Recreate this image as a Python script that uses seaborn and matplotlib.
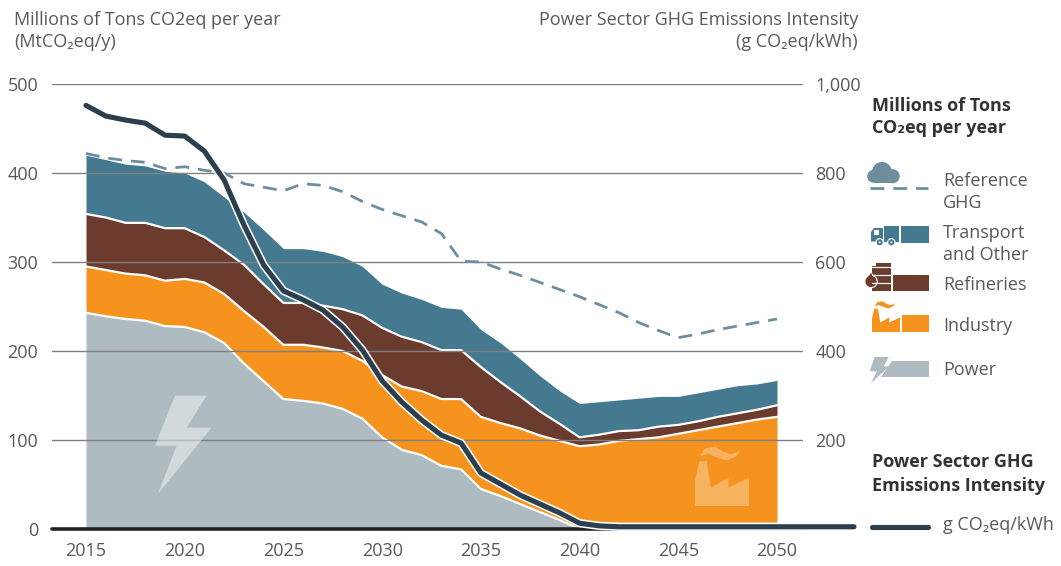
import matplotlib
matplotlib.use("Agg")
import matplotlib.pyplot as plt
import matplotlib.patheffects as pe
from matplotlib.patches import Polygon, Rectangle, Circle
import seaborn as sns

years = list(range(2015, 2051))
power = [243,239,236,234,228,227,221,209,186,166,146,144,141,135,124,103,89,83,71,67,45,37,28,19,10,0,0,0,0,0,0,0,0,0,0,0]
industry_top = [295,291,287,285,279,281,277,264,245,227,207,207,204,200,189,173,160,155,146,146,126,119,113,105,99,93,95,99,101,103,107,111,115,119,123,126]
refineries_top = [354,350,344,344,338,338,328,313,297,275,254,254,251,247,240,226,216,210,201,201,182,165,149,132,118,103,106,110,111,115,117,121,126,130,134,139]
transport_top = [420,415,410,408,402,400,390,373,356,336,315,315,312,306,295,275,265,258,249,247,224,209,191,172,155,141,143,145,147,149,149,153,157,161,163,167]
reference = [422,417,414,412,405,407,403,400,388,384,380,388,386,379,368,359,352,345,332,301,300,292,285,277,269,261,252,243,232,223,215,219,224,228,232,236]
intensity_years = years + [2053.9]
intensity = [952,928,919,912,885,883,849,784,683,593,535,515,492,454,402,333,285,245,211,193,126,101,76,56,36,13,7,5,5,5,5,5,5,5,5,5,5]
left_ticks = [0,100,200,300,400,500]
right_ticks = [200,400,600,800,1000]
right_labels = ["200","400","600","800","1,000"]
x_ticks = [2015,2020,2025,2030,2035,2040,2045,2050]

TEAL, BROWN, ORANGE, GREY = "#44798F", "#6B3B2D", "#F5931E", "#AEBBC1"
DARK, DASH, TEXT, GRID = "#2B3F4F", "#6E8E9E", "#58595B", "#808080"

sns.set_theme(style="white")
plt.rcParams["font.family"] = ["Open Sans", "DejaVu Sans"]
W, H = 1061, 566
fig = plt.figure(figsize=(W/100, H/100), dpi=100)
ax = fig.add_axes([52/W, (H-529)/H, (803-52)/W, (529-84)/H])
xscale = (777-86)/35
ax.set_xlim(2015-(86-52)/xscale, 2050+(803-777)/xscale)
ax.set_ylim(0, 500)
for s in ax.spines.values():
    s.set_visible(False)

bands = [(transport_top, refineries_top, TEAL), (refineries_top, industry_top, BROWN),
         (industry_top, power, ORANGE), (power, [0]*36, GREY)]
for top, bottom, col in bands:
    ax.fill_between(years, bottom, top, color=col, lw=0, zorder=1)
for top in (refineries_top, industry_top, power):
    sns.lineplot(x=years, y=top, color="white", lw=1.6, ax=ax, zorder=2, errorbar=None)

ax.set_yticks(left_ticks)
ax.set_xticks(x_ticks)
ax.tick_params(length=0, labelsize=13, labelcolor=TEXT, pad=9)
ax.tick_params(axis="y", pad=10)
ax.set_axisbelow(False)
ax.yaxis.grid(True, color=GRID, lw=1, zorder=3)
ax.set_xlabel(""); ax.set_ylabel("")
ax.axhline(0, color="#222222", lw=2.6, zorder=4, clip_on=False)
sns.lineplot(x=years, y=reference, color=DASH, lw=2, ax=ax, zorder=5, errorbar=None)
ax.lines[-1].set_dashes((5, 3.2))

ax2 = ax.twinx()
ax2.set_ylim(0, 1000)
ax2.set_yticks(right_ticks)
ax2.set_yticklabels(right_labels)
ax2.tick_params(length=0, labelsize=13, labelcolor=TEXT, pad=9)
for s in ax2.spines.values():
    s.set_visible(False)
ax2.grid(False)
ax2.set_ylabel("")
sns.lineplot(x=intensity_years, y=intensity, color=DARK, lw=3.7, ax=ax2, errorbar=None,
             clip_on=False, solid_capstyle="round", solid_joinstyle="round",
             path_effects=[pe.Stroke(linewidth=6, foreground="white"), pe.Normal()])

ov = fig.add_axes([0, 0, 1, 1], facecolor="none")
ov.set_xlim(0, W); ov.set_ylim(H, 0); ov.axis("off")

def txt(x, y, s, ha="left", bold=False, size=13):
    ov.text(x, y, s, ha=ha, va="center", color="#333333" if bold else TEXT, fontsize=size,
            fontweight="bold" if bold else "normal")

txt(14, 20, "Millions of Tons CO2eq per year")
txt(14, 42, "(MtCO₂eq/y)")
txt(858, 20, "Power Sector GHG Emissions Intensity", ha="right")
txt(858, 42, "(g CO₂eq/kWh)", ha="right")
txt(872, 106, "Millions of Tons", bold=True)
txt(872, 128, "CO₂eq per year", bold=True)
txt(943, 181, "Reference"); txt(943, 203, "GHG")
txt(943, 233, "Transport"); txt(943, 255, "and Other")
txt(943, 285, "Refineries"); txt(943, 326, "Industry"); txt(943, 370, "Power")
txt(872, 462, "Power Sector GHG", bold=True)
txt(872, 486, "Emissions Intensity", bold=True)
txt(943, 525, "g CO₂eq/kWh")

def poly(points, ox, oy, color, alpha=1.0, scale=1/3):
    pts = [(ox+a*scale, oy+b*scale) for a, b in points]
    ov.add_patch(Polygon(pts, closed=True, fc=color, ec="none", alpha=alpha))

bolt = [(135,47),(230,47),(170,143),(245,143),(85,340),(140,197),(75,197)]
factory = [(45,228),(207,228),(207,143),(145,173),(145,143),(93,173),(80,93),(58,93),(45,150)]
smoke = [(60,78),(75,55),(105,50),(130,65),(150,72),(170,68),(182,58),(170,78),(140,92),(110,82),(85,72)]
poly(bolt, 130, 380, "white", .45)
poly(factory, 680, 430, "white", .3)
poly(smoke, 680, 430, "white", .3)

# cloud + dashes
for cx, cy, r in [(882,172,10),(873.7,176.3,6.5),(892.7,176.3,7)]:
    ov.add_patch(Circle((cx, cy), r, fc=DASH, ec="none"))
ov.add_patch(Rectangle((874,176),19,7.3,fc=DASH,ec="none"))
ov.plot([870,928],[187.5,187.5],color=DASH,lw=2,dashes=(5,3.2))
# truck
ov.add_patch(Rectangle((901,226),28,17,fc=TEAL,ec="none"))
ov.add_patch(Rectangle((884,226),15,15.5,fc=TEAL,ec="none"))
poly([(871,241.5),(871,232),(874,228),(883,228),(883,241.5)],0,0,TEAL,scale=1)
ov.add_patch(Rectangle((873.7,230.3),5.6,4.4,fc="white",ec="none"))
for cx in (879.7,891.3):
    ov.add_patch(Circle((cx,242.3),3.6,fc=TEAL,ec="white",lw=0.8))
    ov.add_patch(Circle((cx,242.3),1,fc="white",ec="none"))
# barrel
ov.add_patch(Rectangle((893,275),36,16,fc=BROWN,ec="none"))
ov.add_patch(Rectangle((872,263),19,28,fc=BROWN,ec="none"))
ov.add_patch(Rectangle((872,263),4,3,fc="white",ec="none"))
for y in (267,274.5,283):
    ov.plot([872,891],[y,y],color="white",lw=0.9)
poly([(864.5,281),(877.5,281),(871,271.5)],0,0,"white",scale=1)
ov.add_patch(Circle((871,281.5),6.8,fc="white",ec="none"))
ov.add_patch(Circle((871,281.5),5.6,fc=BROWN,ec="none"))
poly([(866,280),(876,280),(871,273)],0,0,BROWN,scale=1)
# factory
ov.add_patch(Rectangle((902,315),27,17,fc=ORANGE,ec="none"))
poly(factory, 864.2, 292.6, ORANGE, scale=.173)
poly(smoke, 864.2, 292.6, ORANGE, scale=.173)
# bolt
poly([(892,361),(929,361),(929,377),(881,377)],0,0,GREY,scale=1)
poly([(38,297),(80,297),(65,325),(82,325),(27,375),(45,340),(23,340)],862,258,GREY)
# intensity key
ov.plot([872,928],[527,527],color=DARK,lw=3.7,solid_capstyle="round")

fig.savefig("out.png", dpi=100)
